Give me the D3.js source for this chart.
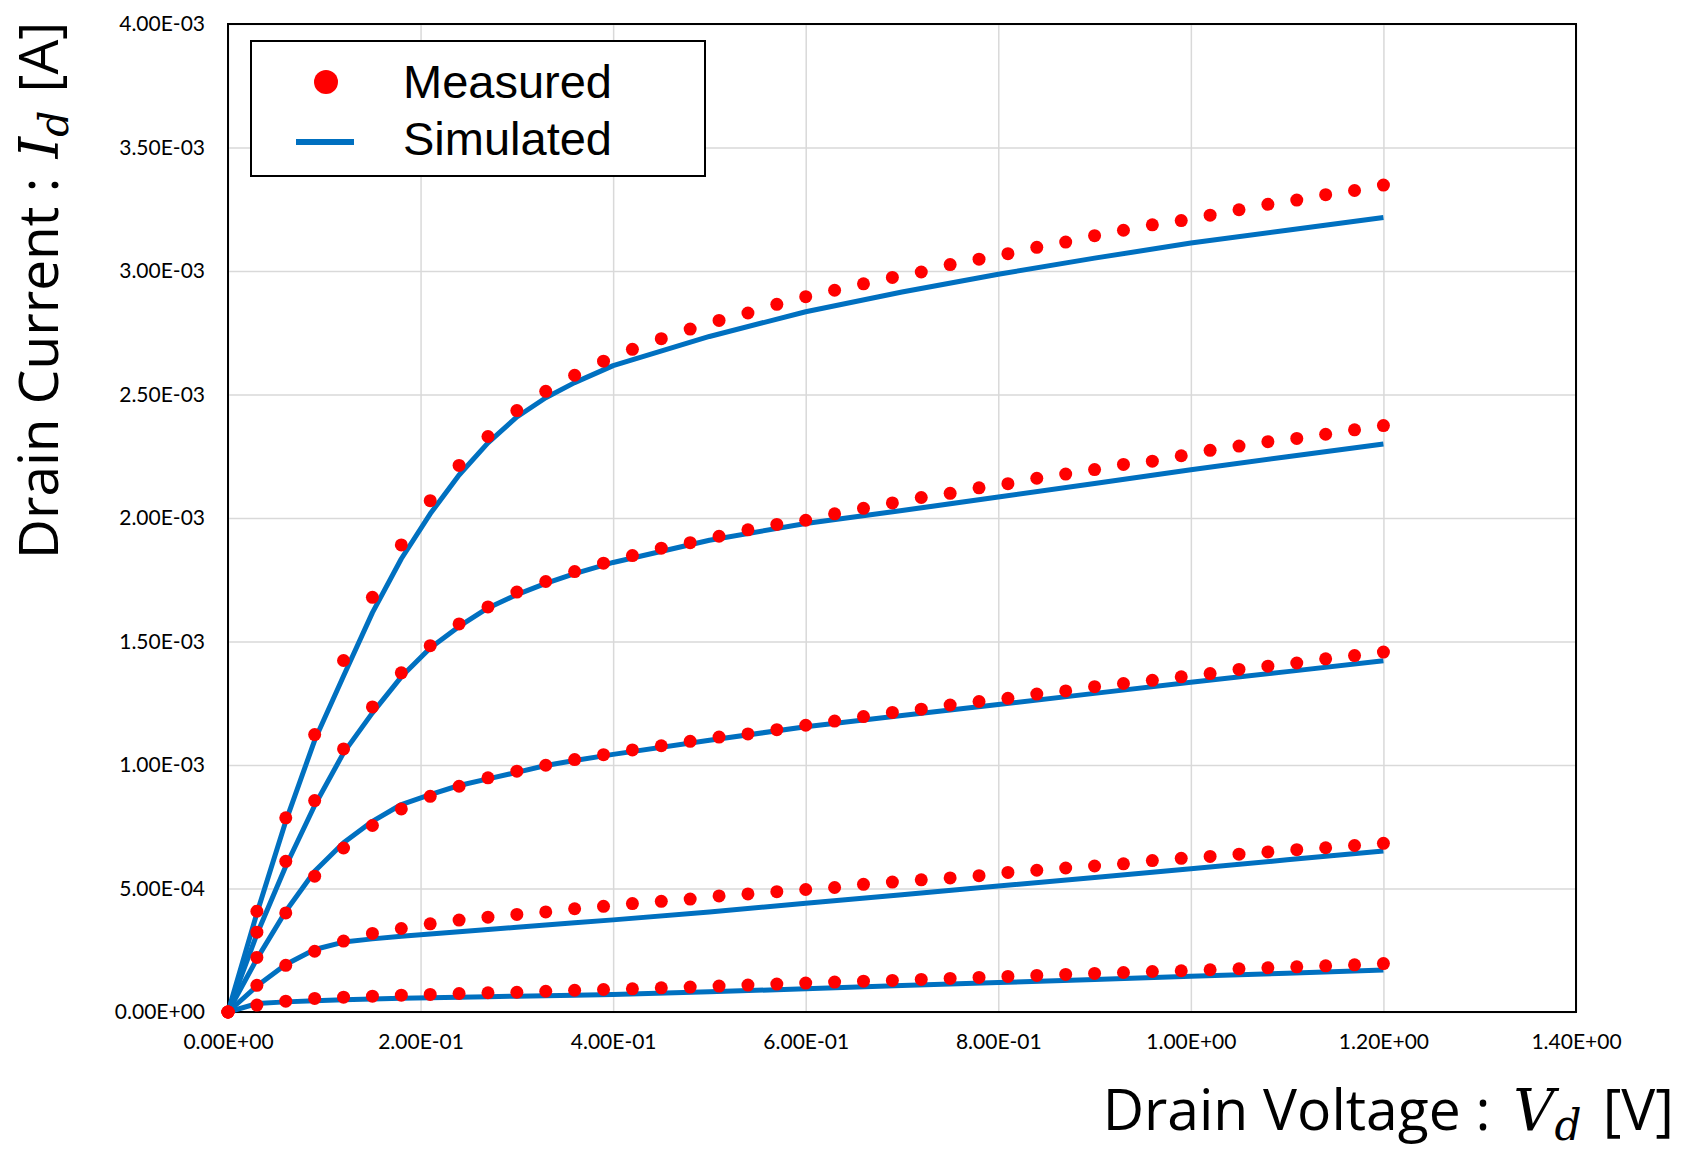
<!DOCTYPE html>
<html>
<head>
<meta charset="utf-8">
<script src="https://cdn.jsdelivr.net/npm/d3@7"></script>
<style>
  body { margin: 0; background: #fff; }
  svg { display: block; }
</style>
</head>
<body>
<div id="chart"></div>
<script>
// drain voltage steps of the measurement [V]
var vd = [0, 0.03, 0.06, 0.09, 0.12, 0.15, 0.18, 0.21, 0.24, 0.27, 0.30,
  0.33, 0.36, 0.39, 0.42, 0.45, 0.48, 0.51, 0.54, 0.57, 0.60,
  0.63, 0.66, 0.69, 0.72, 0.75, 0.78, 0.81, 0.84, 0.87, 0.90,
  0.93, 0.96, 0.99, 1.02, 1.05, 1.08, 1.11, 1.14, 1.17, 1.20];

// measured drain current [mA], one array per gate bias
var meas1 = [0, 0.408, 0.786, 1.123, 1.423, 1.679, 1.891, 2.070, 2.213, 2.330, 2.435,
  2.513, 2.578, 2.635, 2.683, 2.726, 2.765, 2.800, 2.830, 2.865, 2.896,
  2.922, 2.948, 2.974, 2.996, 3.026, 3.048, 3.070, 3.096, 3.117, 3.143,
  3.165, 3.187, 3.204, 3.226, 3.248, 3.270, 3.287, 3.309, 3.326, 3.348];
var meas2 = [0, 0.323, 0.610, 0.856, 1.065, 1.235, 1.373, 1.483, 1.571, 1.640, 1.700,
  1.743, 1.783, 1.817, 1.848, 1.878, 1.900, 1.926, 1.952, 1.974, 1.991,
  2.017, 2.039, 2.061, 2.083, 2.100, 2.122, 2.139, 2.161, 2.178, 2.196,
  2.217, 2.230, 2.252, 2.274, 2.291, 2.309, 2.322, 2.339, 2.357, 2.374];
var meas3 = [0, 0.221, 0.401, 0.550, 0.664, 0.755, 0.822, 0.873, 0.914, 0.948, 0.975,
  0.999, 1.022, 1.042, 1.061, 1.078, 1.096, 1.113, 1.126, 1.143, 1.161,
  1.178, 1.196, 1.213, 1.226, 1.243, 1.257, 1.270, 1.287, 1.300, 1.317,
  1.330, 1.343, 1.357, 1.370, 1.387, 1.400, 1.413, 1.430, 1.443, 1.457];
var meas4 = [0, 0.108, 0.189, 0.246, 0.287, 0.318, 0.338, 0.357, 0.372, 0.384, 0.395,
  0.405, 0.418, 0.428, 0.439, 0.448, 0.457, 0.470, 0.478, 0.487, 0.496,
  0.504, 0.517, 0.526, 0.535, 0.543, 0.552, 0.565, 0.574, 0.583, 0.591,
  0.600, 0.613, 0.622, 0.630, 0.639, 0.648, 0.657, 0.665, 0.674, 0.683];
var meas5 = [0, 0.028, 0.044, 0.055, 0.060, 0.064, 0.068, 0.071, 0.075, 0.078, 0.080,
  0.084, 0.088, 0.091, 0.094, 0.098, 0.101, 0.105, 0.109, 0.113, 0.117,
  0.121, 0.125, 0.128, 0.132, 0.136, 0.140, 0.144, 0.148, 0.152, 0.156,
  0.160, 0.164, 0.167, 0.171, 0.175, 0.179, 0.183, 0.187, 0.191, 0.196];

// simulated curves [mA]
var simVd = [0, 0.03, 0.06, 0.09, 0.12, 0.15, 0.18, 0.21, 0.24, 0.27, 0.30,
  0.33, 0.36, 0.40, 0.50, 0.60, 0.70, 0.80, 0.90, 1.00, 1.10, 1.20];
var sim1 = [0, 0.400, 0.772, 1.100, 1.360, 1.617, 1.835, 2.017, 2.174, 2.304, 2.409,
  2.487, 2.548, 2.617, 2.735, 2.835, 2.915, 2.987, 3.052, 3.113, 3.165, 3.217];
var sim2 = [0, 0.315, 0.590, 0.836, 1.049, 1.211, 1.357, 1.474, 1.561, 1.636, 1.690,
  1.735, 1.775, 1.820, 1.910, 1.978, 2.030, 2.085, 2.140, 2.195, 2.248, 2.300];
var sim3 = [0, 0.215, 0.408, 0.570, 0.685, 0.772, 0.840, 0.880, 0.917, 0.944, 0.970,
  0.998, 1.018, 1.043, 1.100, 1.155, 1.200, 1.245, 1.290, 1.335, 1.378, 1.422];
var sim4 = [0, 0.105, 0.192, 0.253, 0.283, 0.296, 0.307, 0.316, 0.325, 0.334, 0.343,
  0.352, 0.361, 0.373, 0.405, 0.440, 0.475, 0.510, 0.545, 0.580, 0.616, 0.652];
var sim5 = [0, 0.034, 0.041, 0.046, 0.050, 0.053, 0.056, 0.058, 0.060, 0.062, 0.064,
  0.066, 0.068, 0.071, 0.082, 0.094, 0.107, 0.119, 0.132, 0.145, 0.157, 0.170];

var xTicks = [0, 0.2, 0.4, 0.6, 0.8, 1.0, 1.2, 1.4];
var yTicks = [0, 0.5e-3, 1.0e-3, 1.5e-3, 2.0e-3, 2.5e-3, 3.0e-3, 3.5e-3, 4.0e-3];
var legendLabels = ['Measured', 'Simulated'];

var width = 1685, height = 1150;
var margin = { top: 24, right: 109, bottom: 138, left: 228 };
var innerW = width - margin.left - margin.right;
var innerH = height - margin.top - margin.bottom;

var red = '#ff0000', blue = '#0070c0';
var tickFont = 'Lato, "Open Sans", sans-serif';
var titleFont = '"Open Sans", "Noto Sans", sans-serif';

// Excel style scientific label, e.g. 3.50E-03
function sci(v) {
  if (v === 0) return '0.00E+00';
  var e = Math.floor(Math.log10(Math.abs(v)) + 1e-9);
  var m = v / Math.pow(10, e);
  var ee = Math.abs(e);
  return m.toFixed(2) + 'E' + (e < 0 ? '-' : '+') + (ee < 10 ? '0' + ee : ee);
}

var x = d3.scaleLinear().domain([0, 1.4]).range([0, innerW]);
var y = d3.scaleLinear().domain([0, 4e-3]).range([innerH, 0]);

var svg = d3.select('#chart').append('svg')
  .attr('width', width)
  .attr('height', height);

var g = svg.append('g')
  .attr('transform', 'translate(' + margin.left + ',' + margin.top + ')');

// grid lines
g.append('g')
  .attr('class', 'grid')
  .call(d3.axisBottom(x).tickValues(xTicks).tickSize(-innerH).tickFormat(''))
  .attr('transform', 'translate(0,' + innerH + ')')
  .call(function (s) {
    s.select('.domain').remove();
    s.selectAll('line').attr('stroke', '#d9d9d9').attr('stroke-width', 1.5);
  });

g.append('g')
  .attr('class', 'grid')
  .call(d3.axisLeft(y).tickValues(yTicks).tickSize(-innerW).tickFormat(''))
  .call(function (s) {
    s.select('.domain').remove();
    s.selectAll('line').attr('stroke', '#d9d9d9').attr('stroke-width', 1.5);
  });

// tick labels
var xAxis = g.append('g')
  .attr('transform', 'translate(0,' + innerH + ')')
  .call(d3.axisBottom(x).tickValues(xTicks).tickSize(0).tickPadding(22).tickFormat(sci));
xAxis.select('.domain').remove();
xAxis.selectAll('text')
  .attr('font-family', tickFont)
  .attr('font-size', 21)
  .attr('fill', '#000');

var yAxis = g.append('g')
  .call(d3.axisLeft(y).tickValues(yTicks).tickSize(0).tickPadding(23).tickFormat(sci));
yAxis.select('.domain').remove();
yAxis.selectAll('text')
  .attr('font-family', tickFont)
  .attr('font-size', 21)
  .attr('fill', '#000');

// plot frame
g.append('rect')
  .attr('x', 0)
  .attr('y', 0)
  .attr('width', innerW)
  .attr('height', innerH)
  .attr('fill', 'none')
  .attr('stroke', '#000')
  .attr('stroke-width', 2);

var simSeries = [sim1, sim2, sim3, sim4, sim5];
var measSeries = [meas1, meas2, meas3, meas4, meas5];

var line = d3.line()
  .x(function (d, i) { return x(simVd[i]); })
  .y(function (d) { return y(d * 1e-3); });

g.append('g')
  .selectAll('path')
  .data(simSeries)
  .enter().append('path')
  .attr('d', line)
  .attr('fill', 'none')
  .attr('stroke', blue)
  .attr('stroke-width', 5)
  .attr('stroke-linejoin', 'round');

measSeries.forEach(function (s) {
  g.append('g')
    .selectAll('circle')
    .data(s)
    .enter().append('circle')
    .attr('cx', function (d, i) { return x(vd[i]); })
    .attr('cy', function (d) { return y(d * 1e-3); })
    .attr('r', 6.5)
    .attr('fill', red);
});

// legend
var lg = svg.append('g').attr('transform', 'translate(251,41)');
lg.append('rect')
  .attr('width', 454)
  .attr('height', 135)
  .attr('fill', '#fff')
  .attr('stroke', '#000')
  .attr('stroke-width', 2);
lg.append('circle')
  .attr('cx', 75)
  .attr('cy', 41)
  .attr('r', 12)
  .attr('fill', red);
lg.append('line')
  .attr('x1', 45)
  .attr('x2', 103)
  .attr('y1', 101)
  .attr('y2', 101)
  .attr('stroke', blue)
  .attr('stroke-width', 6);
lg.selectAll('text.lab')
  .data(legendLabels)
  .enter().append('text')
  .attr('class', 'lab')
  .attr('x', 152)
  .attr('y', function (d, i) { return 57 + i * 57; })
  .attr('font-family', '"Liberation Sans", Arial, sans-serif')
  .attr('font-size', 47)
  .attr('fill', '#000')
  .text(function (d) { return d; });

// axis titles with math italic symbol and subscript
function axisTitle(sel, pre, sym, post, gap) {
  sel.append('tspan').text(pre);
  sel.append('tspan')
    .attr('dx', gap)
    .attr('font-family', '"DejaVu Serif", "Liberation Serif", serif')
    .attr('font-style', 'italic')
    .text(sym);
  sel.append('tspan')
    .attr('font-family', '"DejaVu Serif", "Liberation Serif", serif')
    .attr('font-style', 'italic')
    .attr('font-size', '0.74em')
    .attr('dy', 10)
    .text('d');
  sel.append('tspan')
    .attr('dx', gap * 0.8)
    .attr('dy', -10)
    .text(' ' + post);
}

var xt = svg.append('text')
  .attr('x', 1674)
  .attr('y', 1130)
  .attr('text-anchor', 'end')
  .attr('font-family', titleFont)
  .attr('font-size', 57)
  .attr('fill', '#000');
axisTitle(xt, 'Drain Voltage : ', 'V', '[V]', 8);

var yt = svg.append('text')
  .attr('transform', 'translate(58,559) rotate(-90)')
  .attr('text-anchor', 'start')
  .attr('font-family', titleFont)
  .attr('font-size', 55)
  .attr('fill', '#000');
axisTitle(yt, 'Drain Current : ', 'I', '[A]', 5);
</script>
</body>
</html>
